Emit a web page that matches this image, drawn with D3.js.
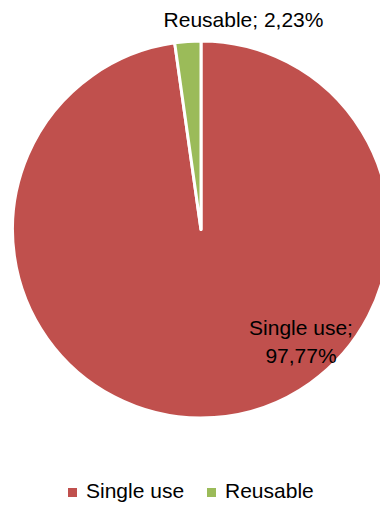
<!DOCTYPE html>
<html>
<head>
<meta charset="utf-8">
<script src="https://cdn.jsdelivr.net/npm/d3@7"></script>
<style>
  body { margin: 0; background: #fff; }
  text { font-family: "Liberation Sans", "DejaVu Sans", sans-serif; fill: #000; }
</style>
</head>
<body>
<svg id="chart" width="380" height="507"></svg>
<script>
const categories = ['Single use', 'Reusable']
const values = [97.77, 2.23]
const colors = ['#C0504D', '#9BBB59']

const svg = d3.select('#chart')
const cx = 201, cy = 229.5, r = 188.5
const fmt = v => d3.format('.2f')(v).replace('.', ',') + '%'

const data = categories.map((c, i) => ({ name: c, value: values[i], color: colors[i] }))

const pie = d3.pie().sort(null).value(d => d.value)
const arc = d3.arc().innerRadius(0).outerRadius(r)
const arcs = pie(data)

const g = svg.append('g').attr('transform', `translate(${cx},${cy})`)
g.selectAll('path')
	.data(arcs)
	.enter().append('path')
	.attr('d', arc)
	.attr('fill', d => d.data.color)
	.attr('stroke', '#fff')
	.attr('stroke-width', 3)
	.attr('stroke-linejoin', 'round')

// data labels
const fs = 21
// Single use: inside, lower right
const lab0 = g.append('text')
	.attr('text-anchor', 'middle')
	.style('font-size', fs + 'px')
	.attr('transform', 'translate(100,105.5)')
lab0.append('tspan').attr('x', 0).attr('dy', 0).text(data[0].name + ';')
lab0.append('tspan').attr('x', 0).attr('dy', 28).text(fmt(data[0].value))

// Reusable: outside, above top
g.append('text')
	.attr('text-anchor', 'middle')
	.style('font-size', fs + 'px')
	.attr('x', 42.5)
	.attr('y', -202.5)
	.text(data[1].name + '; ' + fmt(data[1].value))

// legend
const legendX = [68, 207]
const legend = svg.append('g').attr('transform', 'translate(0,498)')
const item = legend.selectAll('g')
	.data(data)
	.enter().append('g')
	.attr('transform', (d, i) => `translate(${legendX[i]},0)`)
item.append('rect')
	.attr('x', 0).attr('y', -10)
	.attr('width', 9).attr('height', 9)
	.attr('fill', d => d.color)
item.append('text')
	.attr('x', 18).attr('y', 0)
	.style('font-size', fs + 'px')
	.text(d => d.name)
</script>
</body>
</html>
